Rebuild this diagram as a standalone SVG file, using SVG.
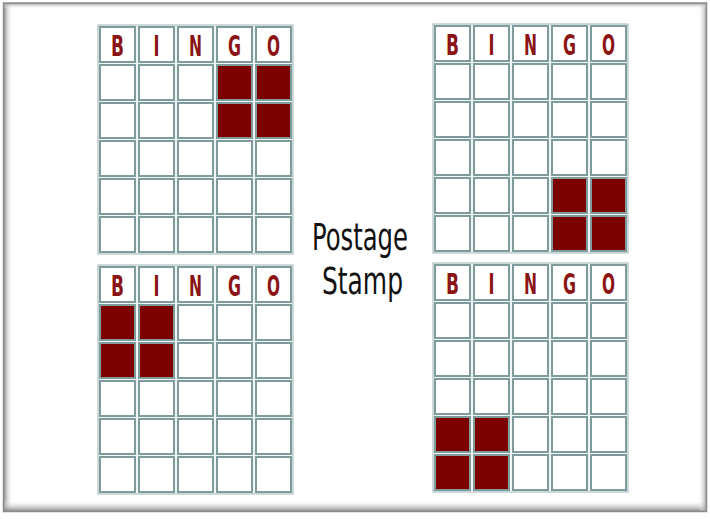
<svg xmlns="http://www.w3.org/2000/svg" width="710" height="519" viewBox="0 0 710 519">
<defs>
<style>
.frame{fill:#eef6f6;stroke:#9fb5b5;stroke-width:1}
.c{fill:#ffffff;stroke:#7f9b9b;stroke-width:2}
.m{fill:#7d0000;stroke:#7f9b9b;stroke-width:2}
.h{font-family:"DejaVu Sans Condensed","DejaVu Sans",sans-serif;font-weight:bold;font-size:29px;fill:#8b1414;text-anchor:middle}
.t{font-family:"DejaVu Sans Condensed","DejaVu Sans",sans-serif;font-weight:normal;font-size:37px;fill:#111111}
</style>
<linearGradient id="gl" x1="0" y1="0" x2="1" y2="0"><stop offset="0" stop-color="#7a7a7a"/><stop offset="1" stop-color="#ffffff" stop-opacity="0"/></linearGradient>
<linearGradient id="gb" x1="0" y1="1" x2="0" y2="0"><stop offset="0" stop-color="#7a7a7a"/><stop offset="1" stop-color="#ffffff" stop-opacity="0"/></linearGradient>
<linearGradient id="gr" x1="1" y1="0" x2="0" y2="0"><stop offset="0" stop-color="#9a9a9a"/><stop offset="1" stop-color="#ffffff" stop-opacity="0"/></linearGradient>
<linearGradient id="gt" x1="0" y1="0" x2="0" y2="1"><stop offset="0" stop-color="#9a9a9a"/><stop offset="1" stop-color="#ffffff" stop-opacity="0"/></linearGradient>
<g id="card">
<rect class="frame" x="-2" y="-2" width="195" height="229"/>
<rect class="c" x="0" y="0" width="35" height="35"/><rect class="c" x="39" y="0" width="35" height="35"/><rect class="c" x="78" y="0" width="35" height="35"/><rect class="c" x="117" y="0" width="35" height="35"/><rect class="c" x="156" y="0" width="35" height="35"/>
<text class="h" x="17.5" y="29" textLength="13" lengthAdjust="spacingAndGlyphs">B</text>
<text class="h" x="56.5" y="29" textLength="6" lengthAdjust="spacingAndGlyphs">I</text>
<text class="h" x="95.5" y="29" textLength="13" lengthAdjust="spacingAndGlyphs">N</text>
<text class="h" x="134.5" y="29" textLength="13" lengthAdjust="spacingAndGlyphs">G</text>
<text class="h" x="173.5" y="29" textLength="13" lengthAdjust="spacingAndGlyphs">O</text>
<g id="row">
<rect class="c" x="0" y="38" width="35" height="35"/><rect class="c" x="39" y="38" width="35" height="35"/><rect class="c" x="78" y="38" width="35" height="35"/><rect class="c" x="117" y="38" width="35" height="35"/><rect class="c" x="156" y="38" width="35" height="35"/>
</g>
<use href="#row" y="38"/>
<use href="#row" y="76"/>
<use href="#row" y="114"/>
<use href="#row" y="152"/>
</g>
</defs>
<rect x="0" y="0" width="710" height="519" fill="#ffffff"/>
<rect x="3" y="3" width="10" height="508" fill="url(#gl)"/>
<rect x="3" y="500" width="704" height="12" fill="url(#gb)"/>
<rect x="698" y="3" width="9" height="508" fill="url(#gr)"/>
<rect x="3" y="3" width="704" height="6" fill="url(#gt)"/>
<rect x="3.5" y="3" width="703" height="508.5" fill="none" stroke="#8c8c8c" stroke-width="1.5"/>

<g id="card-top-left" transform="translate(100,27)">
<use href="#card"/>
<rect class="m" x="117" y="38" width="35" height="35"/><rect class="m" x="156" y="38" width="35" height="35"/>
<rect class="m" x="117" y="76" width="35" height="35"/><rect class="m" x="156" y="76" width="35" height="35"/>
</g>
<g id="card-top-right" transform="translate(435,26)">
<use href="#card"/>
<rect class="m" x="117" y="152" width="35" height="35"/><rect class="m" x="156" y="152" width="35" height="35"/>
<rect class="m" x="117" y="190" width="35" height="35"/><rect class="m" x="156" y="190" width="35" height="35"/>
</g>
<g id="card-bottom-left" transform="translate(100,267)">
<use href="#card"/>
<rect class="m" x="0" y="38" width="35" height="35"/><rect class="m" x="39" y="38" width="35" height="35"/>
<rect class="m" x="0" y="76" width="35" height="35"/><rect class="m" x="39" y="76" width="35" height="35"/>
</g>
<g id="card-bottom-right" transform="translate(435,265)">
<use href="#card"/>
<rect class="m" x="0" y="152" width="35" height="35"/><rect class="m" x="39" y="152" width="35" height="35"/>
<rect class="m" x="0" y="190" width="35" height="35"/><rect class="m" x="39" y="190" width="35" height="35"/>
</g>
<g id="label">
<text class="t" x="312" y="250" textLength="96" lengthAdjust="spacingAndGlyphs">Postage</text>
<text class="t" x="322" y="294" textLength="81" lengthAdjust="spacingAndGlyphs">Stamp</text>
</g>
</svg>
